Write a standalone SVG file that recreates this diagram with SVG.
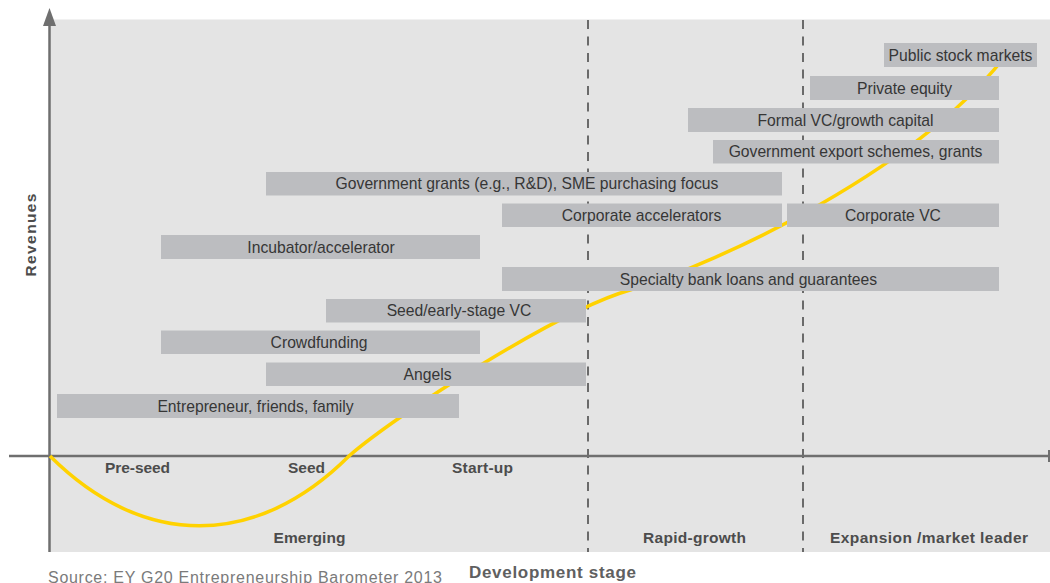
<svg xmlns="http://www.w3.org/2000/svg" width="1050" height="583" viewBox="0 0 1050 583">
<style>
.bar rect{fill:#bcbdc0}
.bar text{font-family:"Liberation Sans",Arial,sans-serif;font-size:15.7px;fill:#363636;text-anchor:middle}
.lbl{font-family:"Liberation Sans",Arial,sans-serif;font-size:15.5px;font-weight:bold;fill:#4c4c4c;text-anchor:middle}
.axis{stroke:#6f6f6f;stroke-width:2.5;fill:none}
.dash{stroke:#6a6a6a;stroke-width:2;stroke-dasharray:9 7.5;fill:none}
</style>
<rect x="50" y="19.5" width="1000" height="532.5" fill="#e4e4e4"/>
<g id="dividers">
<line class="dash" x1="588" y1="20" x2="588" y2="552"/>
<line class="dash" x1="803" y1="20" x2="803" y2="552"/>
</g>
<g id="axes">
<line class="axis" x1="9" y1="456" x2="1049" y2="456"/>
<line x1="1049" y1="450" x2="1049" y2="462" stroke="#6f6f6f" stroke-width="2"/>
<line class="axis" x1="49.5" y1="24" x2="49.5" y2="552"/>
<polygon points="43,26 49.5,8 56,26" fill="#6f6f6f"/>
</g>
<g id="connectors">
<path d="M50,456 C143,549 256,549 349,456 C400,412 560,310 630,290 C720,262 920,170 1010,50" fill="none" stroke="#ffd200" stroke-width="3.5"/>
</g>
<g id="n-public" class="bar"><rect x="884" y="43" width="153" height="24"/><text x="960.5" y="60.5">Public stock markets</text></g>
<g id="n-pe" class="bar"><rect x="810" y="76" width="189" height="24"/><text x="904.5" y="93.5">Private equity</text></g>
<g id="n-formalvc" class="bar"><rect x="688" y="108" width="311" height="24"/><text x="845.5" y="125.5">Formal VC/growth capital</text></g>
<g id="n-export" class="bar"><rect x="713" y="140" width="286" height="23.5"/><text x="855.5" y="157">Government export schemes, grants</text></g>
<g id="n-govgrants" class="bar"><rect x="266" y="172" width="516" height="23.5"/><text x="527" y="189">Government grants (e.g., R&amp;D), SME purchasing focus</text></g>
<g id="n-corpacc" class="bar"><rect x="502" y="203.5" width="280" height="23.5"/><text x="641.5" y="220.5">Corporate accelerators</text></g>
<g id="n-corpvc" class="bar"><rect x="787" y="203.5" width="212" height="23.5"/><text x="893" y="220.5">Corporate VC</text></g>
<g id="n-incubator" class="bar"><rect x="161" y="235" width="319" height="24"/><text x="321" y="252.5">Incubator/accelerator</text></g>
<g id="n-specialty" class="bar"><rect x="502" y="267" width="497" height="24"/><text x="748.5" y="284.5">Specialty bank loans and guarantees</text></g>
<g id="n-seedvc" class="bar"><rect x="326" y="299" width="260" height="23.5"/><text x="459" y="316">Seed/early-stage VC</text></g>
<g id="n-crowd" class="bar"><rect x="161" y="330.5" width="319" height="23.5"/><text x="319" y="347.5">Crowdfunding</text></g>
<g id="n-angels" class="bar"><rect x="266" y="362.5" width="320" height="23.5"/><text x="427.5" y="379.5">Angels</text></g>
<g id="n-eff" class="bar"><rect x="57" y="394" width="402" height="24"/><text x="255.5" y="411.5">Entrepreneur, friends, family</text></g>
<g id="labels">
<text class="lbl" x="137.5" y="473" textLength="65">Pre-seed</text>
<text class="lbl" x="306.5" y="473" textLength="37">Seed</text>
<text class="lbl" x="482.5" y="473" textLength="61">Start-up</text>
<text class="lbl" x="309.5" y="543" textLength="72">Emerging</text>
<text class="lbl" x="694.5" y="543" textLength="103">Rapid-growth</text>
<text class="lbl" x="929" y="543" textLength="198">Expansion /market leader</text>
<text class="lbl" x="552.5" y="578" textLength="167" style="font-size:17px;fill:#606060">Development stage</text>
<text class="lbl" transform="translate(36,235) rotate(-90)" textLength="83">Revenues</text>
<text x="48" y="582.5" style="font-family:'Liberation Sans',Arial,sans-serif;font-size:16px;fill:#7a7a7a" textLength="394">Source: EY G20 Entrepreneurship Barometer 2013</text>
</g>
</svg>
